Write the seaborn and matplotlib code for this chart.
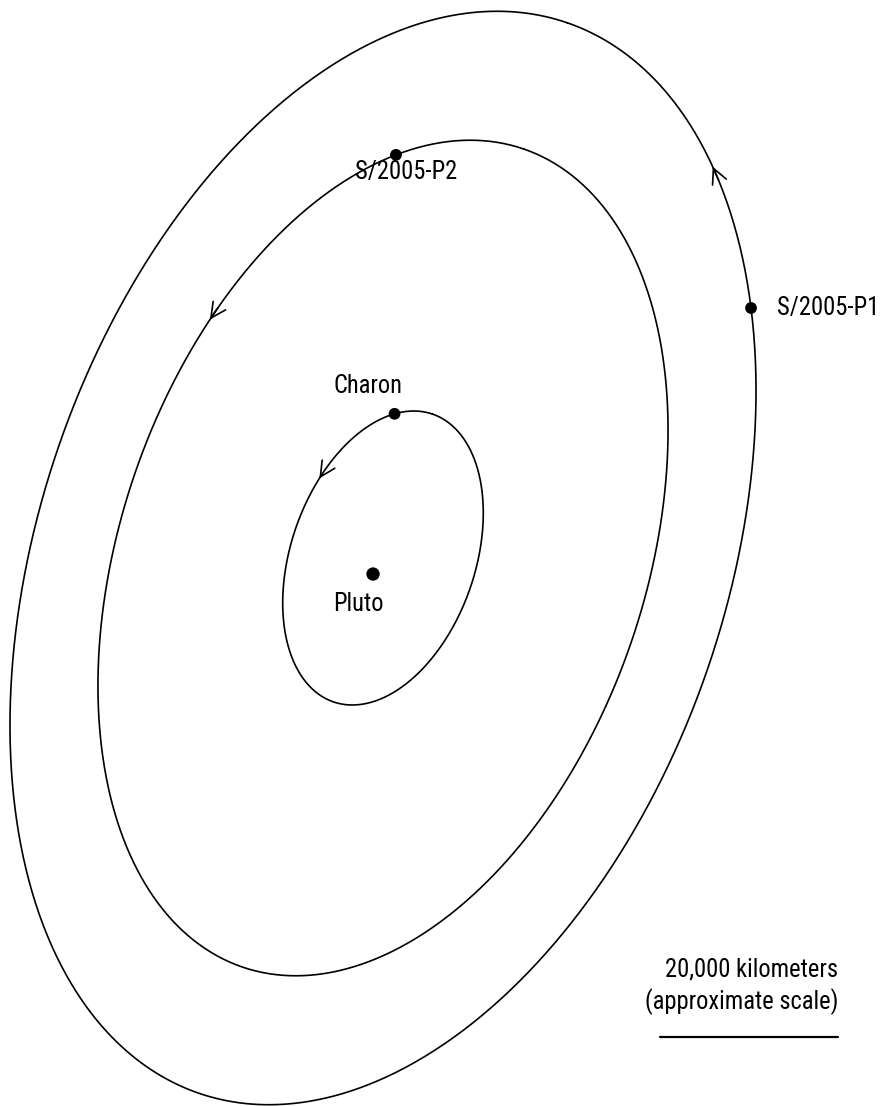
import numpy as np
import pandas as pd
import matplotlib
matplotlib.use("Agg")
import matplotlib.pyplot as plt
import matplotlib.font_manager as fm
import seaborn as sns

# ---- data (km, sky-plane projection) ----
orbit_names = ["Charon", "S/2005-P2", "S/2005-P1"]
orbit_semi_major_km = [17100, 48600, 63600]   # projected semi-major axes
orbit_axis_ratio = 0.606                       # minor/major (inclination)
orbit_tilt_deg = 71.0                          # major axis angle from horizontal
moon_phase_deg = [23, 27, -51]                 # position of each moon along its orbit
arrow_phase_deg = [69, 67, -32.5]              # direction arrows on each orbit
pluto_offset_km = [-1120, -1800]
scale_km = 20000
scale_label = ["20,000 kilometers", "(approximate scale)"]

KM_PER_PX = scale_km / 178.0
W_PX, H_PX = 886, 1106
CX_PX, CY_PX = 383, 558

sns.set_theme(style="white")


def pick_font():
    entries = fm.fontManager.ttflist

    def regular(f):
        fn = f.fname
        return (f.style == "normal" and f.weight in (400, "normal", "regular")
                and "Italic" not in fn and "Bold" not in fn and "Light" not in fn
                and "Medium" not in fn and "Thin" not in fn and "Black" not in fn)

    tiers = [
        lambda f: f.name.startswith("Noto Sans") and "Mono" not in f.name
        and "ExtraCondensed" in f.fname and "Semi" not in f.fname and "Display" not in f.name,
        lambda f: f.name == "Liberation Sans Narrow",
        lambda f: f.name.startswith("Roboto") and "Condensed" in (f.name + f.fname)
        and "Mono" not in f.name and "Slab" not in f.name,
        lambda f: f.name.startswith("Noto Sans") and "Mono" not in f.name
        and "Condensed" in f.fname and "Semi" not in f.fname and "Extra" not in f.fname
        and "Display" not in f.name,
        lambda f: f.name.startswith("Open Sans") and "Condensed" in (f.name + f.fname),
        lambda f: f.name.startswith("DejaVu Sans") and "Condensed" in (f.name + f.fname)
        and "Mono" not in f.name,
    ]
    for tier in tiers:
        c = [f for f in entries if regular(f) and tier(f)]
        if c:
            c.sort(key=lambda f: (len(f.fname), f.fname))
            return fm.FontProperties(fname=c[0].fname)
    return fm.FontProperties(family="DejaVu Sans", stretch="condensed")


FP = pick_font()
plt.rcParams["font.family"] = ["DejaVu Sans"]
plt.rcParams["text.color"] = "black"

fig = plt.figure(figsize=(W_PX / 100, H_PX / 100), dpi=100)
ax = fig.add_axes([0, 0, 1, 1])
ax.set_xlim(-CX_PX * KM_PER_PX, (W_PX - CX_PX) * KM_PER_PX)
ax.set_ylim(-(H_PX - CY_PX) * KM_PER_PX, CY_PX * KM_PER_PX)
ax.set_axis_off()


def px(x, y):
    return ((x - CX_PX) * KM_PER_PX, (CY_PX - y) * KM_PER_PX)


th = np.deg2rad(orbit_tilt_deg)
ct, st = np.cos(th), np.sin(th)


def ell(i, t_deg):
    a = orbit_semi_major_km[i]
    t = np.deg2rad(np.asarray(t_deg, dtype=float))
    b = a * orbit_axis_ratio
    u, v = a * np.cos(t), b * np.sin(t)
    return u * ct - v * st, u * st + v * ct


rows = []
tt = np.linspace(0, 360, 721)
for i, name in enumerate(orbit_names):
    x, y = ell(i, tt)
    rows.append(pd.DataFrame({"x": x, "y": y, "orbit": name}))
orbits = pd.concat(rows, ignore_index=True)
sns.lineplot(data=orbits, x="x", y="y", units="orbit", estimator=None,
             sort=False, color="black", lw=1.2, ax=ax)

# direction arrows (open chevrons)
for i, ph in enumerate(arrow_phase_deg):
    x0, y0 = ell(i, ph - 2.0)
    x1, y1 = ell(i, ph)
    ax.annotate("", xy=(x1, y1), xytext=(x0, y0),
                arrowprops=dict(arrowstyle="->,head_length=0.9,head_width=0.45",
                                color="black", lw=1.2, shrinkA=0, shrinkB=0))

# moons + Pluto
mx, my = [], []
for i, ph in enumerate(moon_phase_deg):
    x, y = ell(i, ph)
    mx.append(float(x)); my.append(float(y))
bodies = pd.DataFrame({"x": mx + [pluto_offset_km[0]],
                       "y": my + [pluto_offset_km[1]],
                       "name": orbit_names + ["Pluto"],
                       "kind": ["moon"] * 3 + ["planet"]})
sns.scatterplot(data=bodies, x="x", y="y", size="kind", sizes={"moon": 72, "planet": 92},
                color="black", edgecolor="none", ax=ax, legend=False)

# choose a font size so that "S/2005-P2" is about as wide as in the reference
renderer = fig.canvas.get_renderer()
probe_fp = FP.copy(); probe_fp.set_size(20)
probe = ax.text(0, 0, "S/2005-P2", fontproperties=probe_fp)
wpx = probe.get_window_extent(renderer).width
probe.remove()
fs = float(np.clip(20 * 102.0 / wpx, 14, 22))


def fprop():
    p = FP.copy(); p.set_size(fs)
    return p


tkw = dict(color="black")
ax.text(*px(368, 386), "Charon", ha="center", va="center", fontproperties=fprop(), **tkw)
ax.text(*px(358, 604), "Pluto", ha="center", va="center", fontproperties=fprop(), **tkw)
ax.text(*px(406, 172), "S/2005-P2", ha="center", va="center", fontproperties=fprop(), **tkw)
ax.text(*px(777, 308), "S/2005-P1", ha="left", va="center", fontproperties=fprop(), **tkw)

# scale bar
x_right = 838
ax.text(*px(x_right, 969), scale_label[0], ha="right", va="center", fontproperties=fprop(), **tkw)
ax.text(*px(x_right, 1002), scale_label[1], ha="right", va="center", fontproperties=fprop(), **tkw)
sx0, sy = px(x_right, 1037)
ax.plot([sx0 - scale_km, sx0], [sy, sy], color="black", lw=1.6)

ax.set_xlabel("")
ax.set_ylabel("")
fig.savefig("out.png", dpi=100, facecolor="white")
